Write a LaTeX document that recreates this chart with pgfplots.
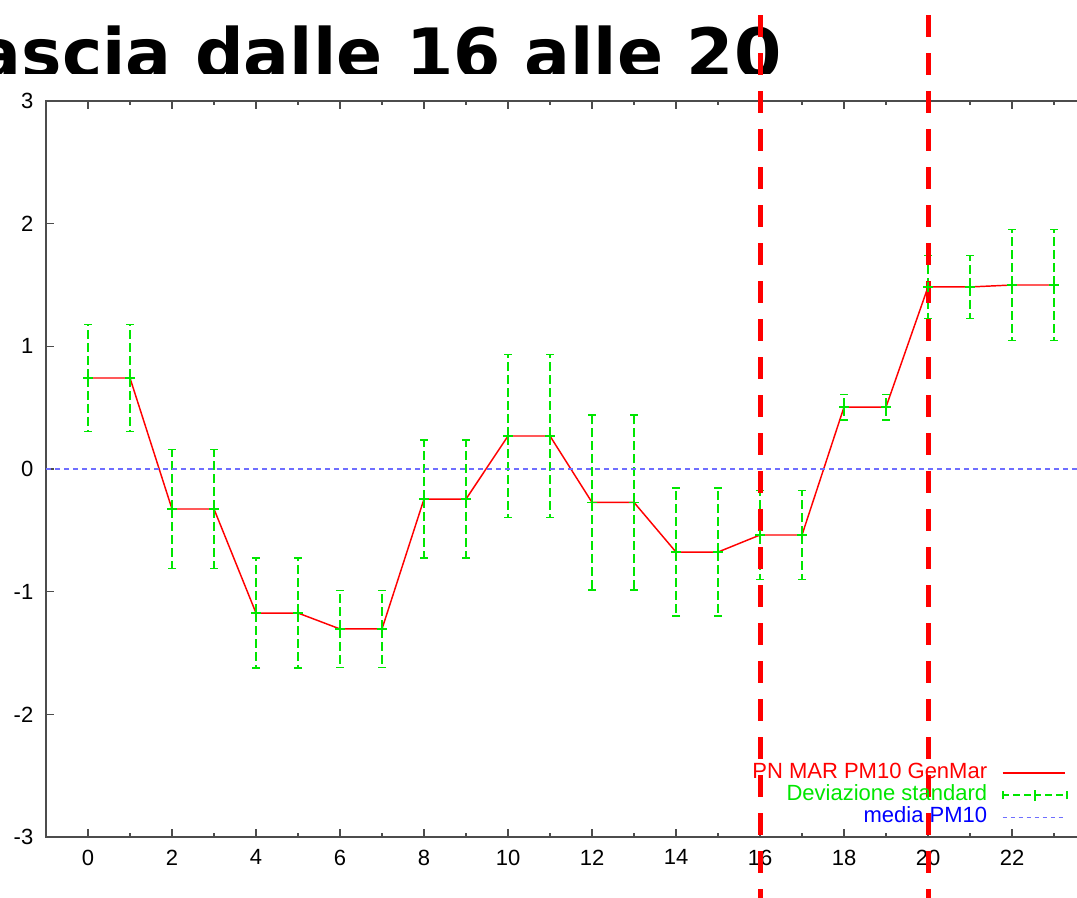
\documentclass[border=0pt]{standalone}
\usepackage{pgfplots}
\pgfplotsset{compat=1.18}
\usepackage{pgfplotstable}
\usepackage{fontspec}
\setmainfont{Liberation Sans}
\newfontfamily\titlefont{DejaVu Sans}
\definecolor{gpred}{RGB}{255,0,0}
\definecolor{gpgreen}{RGB}{0,230,0}
\definecolor{gpblue}{RGB}{0,0,255}
\definecolor{gpmean}{RGB}{110,110,255}

\pgfplotstableread{
x y e
0 0.742 0.436
1 0.742 0.436
2 -0.326 0.485
3 -0.326 0.485
4 -1.174 0.448
5 -1.174 0.448
6 -1.304 0.313
7 -1.304 0.313
8 -0.245 0.481
9 -0.245 0.481
10 0.269 0.664
11 0.269 0.664
12 -0.272 0.713
13 -0.272 0.713
14 -0.677 0.521
15 -0.677 0.521
16 -0.538 0.363
17 -0.538 0.363
18 0.505 0.105
19 0.505 0.105
20 1.484 0.257
21 1.484 0.257
22 1.500 0.452
23 1.500 0.452
}\datatable

\begin{document}
\begin{tikzpicture}
\useasboundingbox (0,0) rectangle (807.75pt,-672.75pt);
\begin{scope}
\clip (-100pt,10pt) rectangle (900pt,-54.75pt);
\node[anchor=base west, inner sep=0pt, font=\titlefont\bfseries\fontsize{51}{60}\selectfont] at (-50.25pt,-57.75pt) {Fascia dalle 16 alle 20};
\end{scope}
\begin{axis}[
  at={(34.5pt,-627.75pt)}, anchor=south west,
  scale only axis, width=787.5pt, height=552pt,
  xmin=-1, xmax=24, ymin=-3, ymax=3,
  xtick={0,2,...,22}, minor xtick={1,3,...,23},
  ytick={-3,-2,...,3},
  tick align=inside,
  major tick length=6pt, minor tick length=3pt,
  axis line style={draw=black!70, line width=1.2pt},
  every tick/.style={black!70, line width=1pt},
  ticklabel style={font=\fontsize{16.5}{20}\selectfont, text=black},
  /pgf/number format/assume math mode=true,
  xticklabel style={yshift=-6pt},
  yticklabel style={xshift=-6pt},
  clip=false,
  legend cell align=right, legend plot pos=right,
  legend style={draw=none, fill=none, at={(axis cs:23.33,-2.389)}, anchor=north east,
    inner sep=0pt, column sep=11pt, row sep=0pt,
    nodes={inner sep=0pt, text height=12pt, text depth=4.5pt, font=\fontsize{16.5}{20}\selectfont}},
]
\addplot[gpred, line width=1.1pt, no markers,
  legend image code/.code={\draw[color=gpred,draw=gpred,solid,line width=1.4pt] (0pt,0pt)--(47pt,0pt);}]
  table[x=x,y=y]{\datatable};
\addlegendentry{\textcolor{gpred}{PN MAR PM10 GenMar}}
\addplot[gpgreen, only marks, mark=+, mark size=3.75pt, mark options={solid, line width=1pt},
  legend image code/.code={
    \draw[color=gpgreen,draw=gpgreen,line width=1.3pt,dash pattern=on 5pt off 3pt] (0pt,0pt)--(48pt,0pt);
    \draw[color=gpgreen,draw=gpgreen,solid,line width=1.2pt] (0pt,-3pt)--(0pt,3pt) (48pt,-3pt)--(48pt,3pt) (24pt,-4pt)--(24pt,4pt);},
  error bars/.cd, y dir=both, y explicit,
  error bar style={gpgreen, line width=1.1pt, dash pattern=on 6.75pt off 3pt},
  error mark options={gpgreen, solid, line width=1pt, mark size=3pt, rotate=90}]
  table[x=x,y=y,y error=e]{\datatable};
\addlegendentry{\textcolor{gpgreen}{Deviazione standard}}
\addplot[gpmean, line width=0.8pt, dash pattern=on 3.75pt off 3pt,
  legend image code/.code={\draw[color=gpmean, draw=gpmean, line width=1.2pt, dash pattern=on 3pt off 3pt] (0pt,0pt)--(45pt,0pt);}]
  coordinates {(-1,0) (24,0)};
\addlegendentry{\textcolor{gpblue}{media PM10}}
\draw[gpred, line width=3.75pt, dash pattern=on 16.5pt off 12pt] (axis cs:16,3.70) -- (axis cs:16,-3.6);
\draw[gpred, line width=3.75pt, dash pattern=on 16.5pt off 12pt] (axis cs:20,3.70) -- (axis cs:20,-3.6);
\end{axis}
\end{tikzpicture}
\end{document}
